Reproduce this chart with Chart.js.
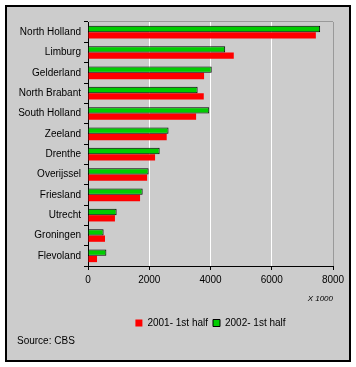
<!DOCTYPE html>
<html>
<head>
<meta charset="utf-8">
<script src="https://cdn.jsdelivr.net/npm/chart.js@4/dist/chart.umd.min.js"></script>
<style>
  html, body { margin: 0; padding: 0; background: #ffffff; }
  #frame { position: absolute; left: 5px; top: 5px; width: 342px; height: 353px;
           border: 2px solid #000; background: #cccccc; }
  #wrap { position: absolute; left: 0; top: 0; width: 356px; height: 367px; }
  #source { position: absolute; left: 17px; top: 335px; font: 10px "Liberation Sans", Arial, sans-serif; color: #000; }
</style>
</head>
<body>
<div id="frame"></div>
<div id="wrap"><canvas id="c" width="356" height="367"></canvas></div>
<div id="source">Source: CBS</div>
<script>
const categories = ["North Holland", "Limburg", "Gelderland", "North Brabant", "South Holland", "Zeeland", "Drenthe", "Overijssel", "Friesland", "Utrecht", "Groningen", "Flevoland"];
const values2001 = [7440, 4760, 3790, 3780, 3530, 2570, 2190, 1930, 1700, 880, 555, 295];
const values2002 = [7580, 4480, 4040, 3580, 3960, 2630, 2340, 1980, 1785, 935, 510, 600];
const seriesNames = ["2001- 1st half", "2002- 1st half"];
const xTicks = [0, 2000, 4000, 6000, 8000];
const xTitle = "X 1000";

const FONT = "'Liberation Sans', Arial, sans-serif";

new Chart(document.getElementById("c"), {
  type: "bar",
  data: {
    labels: categories,
    datasets: [
      { label: seriesNames[1], data: values2002, backgroundColor: "#00cc00", borderColor: "#000000", borderWidth: 1 },
      { label: seriesNames[0], data: values2001, backgroundColor: "#ff0000", borderColor: "#ff0000", borderWidth: 0 }
    ]
  },
  options: {
    indexAxis: "y",
    responsive: false,
    animation: false,
    devicePixelRatio: 1,
    categoryPercentage: 0.62,
    barPercentage: 1.0,
    layout: { padding: { top: 22, right: 23, left: 0, bottom: 29 } },
    scales: {
      x: {
        min: xTicks[0],
        max: xTicks[xTicks.length - 1],
        afterBuildTicks: (s) => { s.ticks = xTicks.map(v => ({ value: v })); },
        afterFit: (s) => { s.height = 47; },
        ticks: { color: "#000", font: { family: FONT, size: 10 }, padding: 4, maxRotation: 0,
                 callback: (v) => String(v) },
        grid: {
          color: (ctx) => (ctx.tick && ctx.tick.value === 8000) ? "#999999" : (ctx.tick && ctx.tick.value === 0 ? "rgba(0,0,0,0)" : "#ffffff"),
          tickColor: "#000",
          tickLength: 4,
          lineWidth: 1
        },
        border: { color: "#000", width: 1 },
        title: { display: true, text: xTitle, align: "end", color: "#000",
                 font: { family: FONT, size: 8, style: "italic" }, padding: { top: 6, bottom: 9 } }
      },
      y: {
        afterFit: (s) => { s.width = 88; },
        ticks: { color: "#000", font: { family: FONT, size: 10 }, padding: 3 },
        grid: {
          offset: true,
          drawOnChartArea: true,
          color: (ctx) => ctx.index === 0 ? "#999999" : "rgba(0,0,0,0)",
          tickColor: "#000",
          tickLength: 4
        },
        border: { color: "#000", width: 1 }
      }
    },
    plugins: {
      legend: {
        position: "bottom",
        fullSize: false,
        reverse: true,
        labels: { boxWidth: 7, boxHeight: 7, padding: 5, color: "#000", font: { family: FONT, size: 10 } }
      },
      tooltip: { enabled: false }
    }
  }
});
</script>
</body>
</html>
